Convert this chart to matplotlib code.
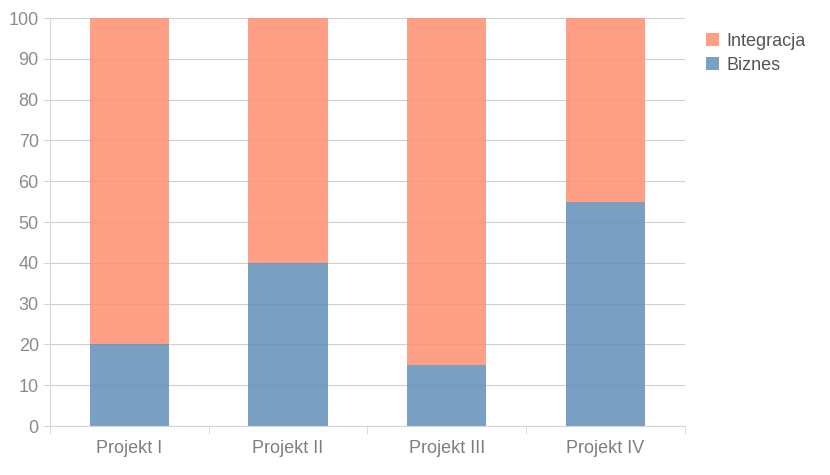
import numpy as np
import matplotlib.pyplot as plt

projects = ["Projekt I", "Projekt II", "Projekt III", "Projekt IV"]
biznes = [20, 40, 15, 55]
integracja = [80, 60, 85, 45]

plt.rcParams['font.family'] = ['Liberation Sans', 'DejaVu Sans']

fig = plt.figure(figsize=(8.3, 4.75), dpi=100)
ax = fig.add_axes([0.0602, 0.103, 0.765, 0.859])

x = np.arange(len(projects))
# bars a bit see-through so the grid shows faintly, like the original
ax.bar(x, biznes, width=0.5, color='#628fb8', alpha=0.85, label='Biznes', zorder=2)
ax.bar(x, integracja, width=0.5, bottom=biznes, color='#ff9071', alpha=0.85,
       label='Integracja', zorder=2)

ax.set_xlim(-0.5, len(projects) - 0.5)
ax.set_ylim(0, 100)
ax.set_yticks(range(0, 101, 10))
ax.yaxis.grid(True, color='#cfcfcf', linewidth=0.8, zorder=0)
ax.set_axisbelow(True)

ax.set_xticks(x)
ax.set_xticklabels(projects)
ax.set_xticks(np.arange(-0.5, len(projects), 1), minor=True)
ax.tick_params(axis='x', which='major', length=0, pad=10, labelsize=13, labelcolor='#7f7f7f')
ax.tick_params(axis='x', which='minor', length=6, color='#d6d6d6')
ax.tick_params(axis='y', length=5, color='#d6d6d6', pad=3, labelsize=13, labelcolor='#8c8c8c')

for side in ['top', 'right']:
    ax.spines[side].set_visible(False)
for side in ['left', 'bottom']:
    ax.spines[side].set_color('#d6d6d6')

handles, labels = ax.get_legend_handles_labels()
leg = fig.legend(handles[::-1], labels[::-1], loc='upper left', bbox_to_anchor=(0.831, 0.965),
                 frameon=False, handlelength=0.7, handleheight=0.7, handletextpad=0.45,
                 labelspacing=0.4, fontsize=13)
for t in leg.get_texts():
    t.set_color('#555555')

fig.savefig('out.png', dpi=100)
